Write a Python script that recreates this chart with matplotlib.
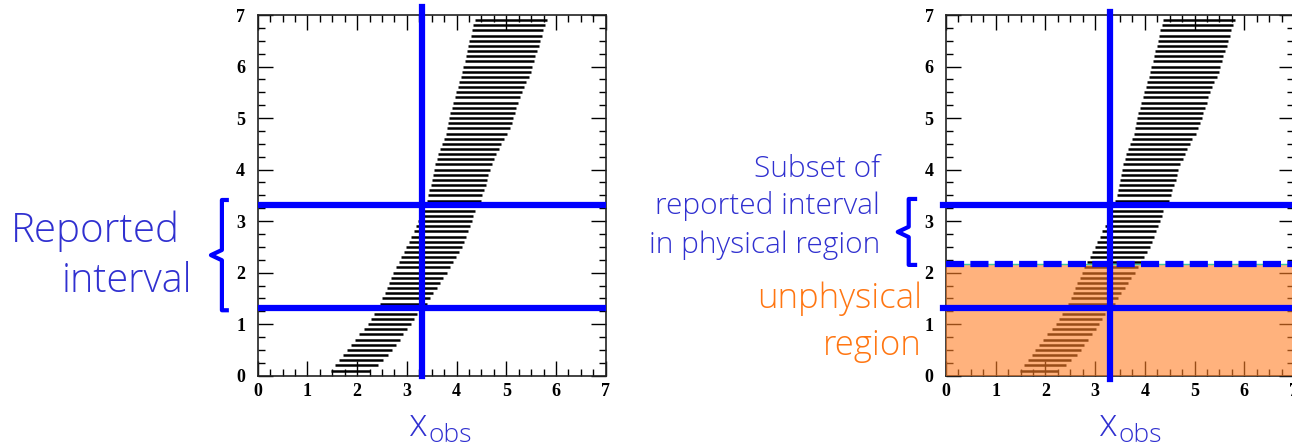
"""
confidence belt with reported interval / unphysical region
"""

import numpy as np
import matplotlib.pyplot as plt
from matplotlib.ticker import MultipleLocator

plt.rcParams['font.family'] = ['Liberation Serif', 'DejaVu Serif']

# belt rows (mu) and their acceptance edges in x_obs
mu = np.round(np.arange(0.1, 7.0, 0.1), 1)
x_lo = [1.48, 1.56, 1.64, 1.72, 1.79, 1.88, 1.96, 2.04, 2.13, 2.21,
        2.27, 2.33, 2.39, 2.45, 2.51, 2.56, 2.60, 2.64, 2.69, 2.73,
        2.78, 2.84, 2.89, 2.94, 2.99, 3.04, 3.09, 3.14, 3.19, 3.23,
        3.27, 3.30, 3.34, 3.40, 3.43, 3.45, 3.48, 3.50, 3.52, 3.54,
        3.57, 3.60, 3.63, 3.67, 3.70, 3.74, 3.79, 3.81, 3.82, 3.84,
        3.87, 3.90, 3.93, 3.96, 3.99, 4.02, 4.05, 4.08, 4.11, 4.13,
        4.16, 4.18, 4.21, 4.24, 4.26, 4.29, 4.31, 4.34, 4.37]
x_hi = [2.25, 2.41, 2.52, 2.63, 2.71, 2.78, 2.86, 2.93, 3.01, 3.08,
        3.14, 3.20, 3.31, 3.40, 3.46, 3.53, 3.60, 3.67, 3.73, 3.80,
        3.86, 3.92, 3.98, 4.04, 4.10, 4.15, 4.19, 4.23, 4.27, 4.31,
        4.34, 4.37, 4.42, 4.49, 4.52, 4.55, 4.59, 4.62, 4.64, 4.67,
        4.71, 4.76, 4.80, 4.85, 4.90, 4.95, 5.02, 5.07, 5.11, 5.14,
        5.17, 5.20, 5.24, 5.27, 5.31, 5.36, 5.40, 5.45, 5.49, 5.52,
        5.55, 5.58, 5.62, 5.65, 5.68, 5.71, 5.74, 5.77, 5.81]

x_obs = 3.3
interval = (1.31, 3.31)
phys_bound = 2.17

BLUE = '#0000ff'
TXT_BLUE = '#3030d0'
ORANGE = '#ff7612'

W, H = 1292, 447
fig = plt.figure(figsize=(W / 100, H / 100), dpi=100)


def px(x, y):
    return x / W, 1 - y / H


def brace(ax, xbar, xhook, xtip, y0, y1):
    ym = (y0 + y1) / 2
    d = 0.1
    ax.plot([xhook, xbar, xbar, xtip, xbar, xbar, xhook],
            [y1, y1, ym + d, ym, ym - d, y0, y0],
            color=BLUE, lw=3, clip_on=False, solid_joinstyle='round',
            solid_capstyle='butt', zorder=6)


def setup(ax):
    ax.hlines(mu, x_lo, x_hi, color='black', lw=1.8, zorder=2)
    ax.set_xlim(0, 7)
    ax.set_ylim(0, 7)
    for a in (ax.xaxis, ax.yaxis):
        a.set_major_locator(MultipleLocator(1))
        a.set_minor_locator(MultipleLocator(0.25))
    ax.tick_params(which='both', direction='in', top=True, right=True,
                   labelsize=13, colors='black')
    ax.tick_params(which='major', length=11, width=1)
    ax.tick_params(which='minor', length=5, width=1)
    ax.tick_params(axis='y', pad=9)
    ax.tick_params(axis='x', pad=5)
    for lab in ax.get_xticklabels() + ax.get_yticklabels():
        lab.set_fontweight('bold')
    for s in ax.spines.values():
        s.set_linewidth(1.2)
        s.set_color('#222222')


sans = dict(family=['Open Sans', 'DejaVu Sans'], fontweight='light')

# ---- left panel
ax1 = fig.add_axes([257.7 / W, 71.3 / H, 348 / W, 360.7 / H])
setup(ax1)
for y in interval:
    ax1.axhline(y, color=BLUE, lw=4.5, zorder=5)
ax1.plot([x_obs, x_obs], [0, 7.16], color=BLUE, lw=4.5, clip_on=False, zorder=5)
brace(ax1, -0.72, -0.58, -0.94, interval[0] - 0.04, interval[1] + 0.1)

fig.text(*px(180, 242), 'Reported', ha='right', va='baseline',
         color=TXT_BLUE, fontsize=29, **sans)
fig.text(*px(192, 292), 'interval', ha='right', va='baseline',
         color=TXT_BLUE, fontsize=28.5, **sans)

# ---- right panel
ax2 = fig.add_axes([946 / W, 71.3 / H, 348 / W, 360.7 / H])
setup(ax2)
ax2.axhspan(0, phys_bound, color='#ff7f27', alpha=0.6, lw=0, zorder=3)
ax2.axhline(phys_bound, color='#3cc8a0', lw=1, zorder=4)
ax2.axhline(phys_bound, color=BLUE, lw=4.5, dashes=(2.9, 1.0), zorder=5)
for y in interval:
    ax2.plot([-0.07, 7], [y, y], color=BLUE, lw=4.5, clip_on=False, zorder=5)
ax2.plot([x_obs, x_obs], [-0.06, 7.06], color=BLUE, lw=4.5, clip_on=False, zorder=5)
brace(ax2, -0.75, -0.58, -0.97, phys_bound - 0.02, interval[1] + 0.12)

for txt, yb in [('Subset of', 177), ('reported interval', 214),
                ('in physical region', 253)]:
    fig.text(*px(880, yb), txt, ha='right', va='baseline',
             color=TXT_BLUE, fontsize=21.5, **sans)
for txt, yb in [('unphysical', 308), ('region', 355)]:
    fig.text(*px(922, yb), txt, ha='right', va='baseline',
             color=ORANGE, fontsize=25, **sans)

# x_obs labels
for x0 in (409, 1099):
    fig.text(*px(x0, 436), 'x', ha='left', va='baseline',
             color=TXT_BLUE, fontsize=27, **sans)
    fig.text(*px(x0 + 19, 442), 'obs', ha='left', va='baseline',
             color=TXT_BLUE, fontsize=19, **sans)

fig.savefig('out.png', dpi=100)
